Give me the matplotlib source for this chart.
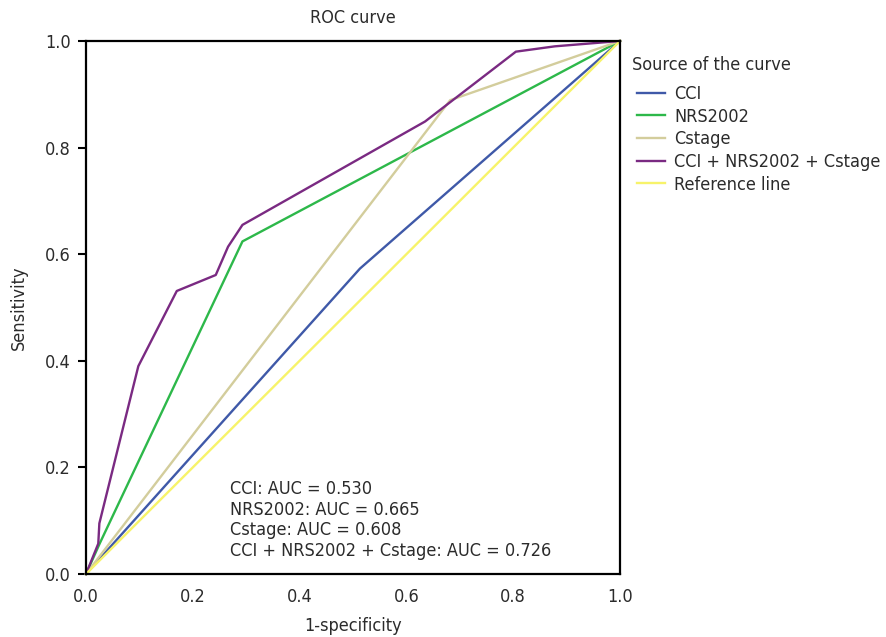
import matplotlib
matplotlib.use('Agg')
import matplotlib.pyplot as plt

# ROC points (1-specificity, sensitivity)
cci_x = [0.0, 0.513, 1.0]
cci_y = [0.0, 0.573, 1.0]
nrs_x = [0.0, 0.026, 0.293, 1.0]
nrs_y = [0.0, 0.058, 0.624, 1.0]
cstage_x = [0.0, 0.682, 1.0]
cstage_y = [0.0, 0.889, 1.0]
combo_x = [0.0, 0.023, 0.025, 0.098, 0.170, 0.243, 0.266, 0.293, 0.635, 0.805, 0.878, 1.0]
combo_y = [0.0, 0.057, 0.095, 0.390, 0.531, 0.561, 0.614, 0.655, 0.849, 0.980, 0.990, 1.0]
ref_x = [0.0, 1.0]
ref_y = [0.0, 1.0]

labels = ['CCI', 'NRS2002', 'Cstage', 'CCI + NRS2002 + Cstage', 'Reference line']
colors = ['#3F59A8', '#2DB84A', '#D3CD9C', '#7A2A82', '#F7F36A']
auc_lines = ['CCI: AUC = 0.530', 'NRS2002: AUC = 0.665',
             'Cstage: AUC = 0.608', 'CCI + NRS2002 + Cstage: AUC = 0.726']

plt.rcParams['font.family'] = ['DejaVu Sans']
plt.rcParams['font.stretch'] = 'condensed'
FS = 13
TXT = '#2b2b2b'

W, H = 886, 637
fig = plt.figure(figsize=(W / 100, H / 100), dpi=100)
ax = fig.add_axes([86 / W, 1 - 574 / H, 534 / W, 533 / H])

series = [(cci_x, cci_y), (nrs_x, nrs_y), (cstage_x, cstage_y),
          (combo_x, combo_y), (ref_x, ref_y)]
for (xs, ys), lab, c in zip(series, labels, colors):
    ax.plot(xs, ys, color=c, lw=1.7, label=lab, clip_on=False)

ax.set_xlim(0, 1)
ax.set_ylim(0, 1)
ticks = [0.0, 0.2, 0.4, 0.6, 0.8, 1.0]
ax.set_xticks(ticks)
ax.set_yticks(ticks)
ax.set_xticklabels(['%.1f' % t for t in ticks])
ax.set_yticklabels(['%.1f' % t for t in ticks])
ax.tick_params(axis='y', direction='out', length=6, width=1.5, pad=5,
               labelsize=FS, labelcolor=TXT)
ax.tick_params(axis='x', length=0, pad=10, labelsize=FS, labelcolor=TXT)
for s in ax.spines.values():
    s.set_linewidth(1.6)
    s.set_color('black')

ax.set_title('ROC curve', fontsize=FS, pad=13, color=TXT)
ax.set_xlabel('1-specificity', fontsize=FS, labelpad=8, color=TXT)
ax.set_ylabel('Sensitivity', fontsize=FS, labelpad=12, color=TXT)

# AUC annotation, one line per model
for i, line in enumerate(auc_lines):
    ypix = 489 + 20.7 * i
    fig.text(230 / W, 1 - ypix / H, line, fontsize=FS, va='center', ha='left', color=TXT)

fig.text(632 / W, 1 - 65 / H, 'Source of the curve', fontsize=FS, va='center',
         ha='left', color=TXT)
leg = ax.legend(loc='upper left', bbox_to_anchor=(637 / W, 1 - 85 / H),
                bbox_transform=fig.transFigure, frameon=False, fontsize=FS,
                handlelength=1.55, handletextpad=0.5, labelspacing=0.26,
                borderpad=0, borderaxespad=0)
for t in leg.get_texts():
    t.set_color(TXT)

fig.savefig('out.png', dpi=100)
